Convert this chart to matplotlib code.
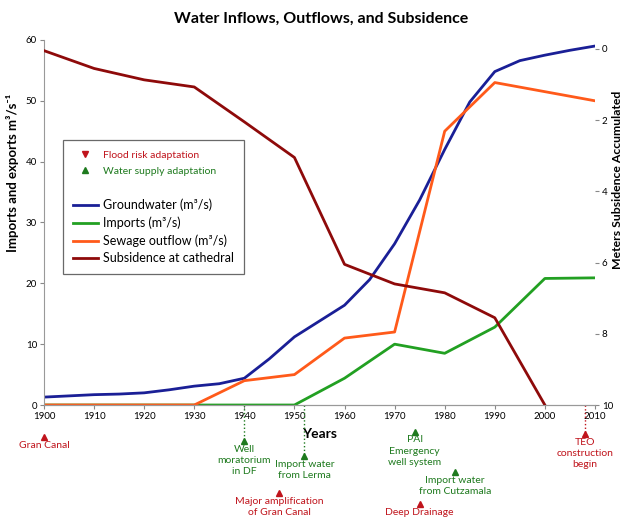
import matplotlib
matplotlib.use("Agg")
import matplotlib.pyplot as plt
from matplotlib.lines import Line2D

plt.rcParams['font.family'] = ['Lato', 'DejaVu Sans']

# data
years = [1900, 1910, 1920, 1930, 1940, 1950, 1960, 1970, 1980, 1990, 2000, 2010]
imports = [0, 0, 0, 0, 0, 0, 4.4, 10.0, 8.5, 12.8, 20.8, 20.9]
sewage = [0, 0, 0, 0, 4.0, 5.0, 11.0, 12.0, 45.0, 53.0, 51.5, 50.0]
subsidence = [0.05, 0.55, 0.87, 1.07, 2.05, 3.05, 6.05, 6.6, 6.85, 7.55, 10.0]
subs_years = years[:11]

# groundwater curve is smooth in the original, read every 5 years
gw_years = [1900, 1905, 1910, 1915, 1920, 1925, 1930, 1935, 1940, 1945, 1950, 1955,
            1960, 1965, 1970, 1975, 1980, 1985, 1990, 1995, 2000, 2005, 2010]
groundwater = [1.3, 1.5, 1.7, 1.8, 2.0, 2.5, 3.1, 3.5, 4.4, 7.6, 11.2, 13.8,
               16.4, 20.6, 26.5, 33.7, 42.0, 49.8, 54.8, 56.6, 57.5, 58.3, 59.0]

# events below the axis
ev_years = [1900, 1940, 1952, 1947, 1974, 1982, 1975, 2008]
ev_labels = ["Gran Canal", "Well\nmoratorium\nin DF", "Import water\nfrom Lerma",
             "Major amplification\nof Gran Canal", "PAI\nEmergency\nwell system",
             "Import water\nfrom Cutzamala", "Deep Drainage", "TEO\nconstruction\nbegin"]
ev_kind = ["flood", "water", "water", "flood", "water", "water", "flood", "flood"]
ev_marker_y = [-5.3, -5.9, -8.4, -14.5, -4.4, -11.0, -16.3, -4.8]
ev_dotted = [False, True, True, False, False, False, False, True]

c_blue = "#1a1f96"
c_green = "#22a022"
c_orange = "#ff5a1a"
c_red = "#8e0a0a"
c_flood = "#c0141c"
c_water = "#1e7a1e"

fig = plt.figure(figsize=(6.23, 5.23), dpi=100)
ax = fig.add_axes([0.0706, 0.2256, 0.8844, 0.698])
ax2 = ax.twinx()

ax.plot(gw_years, groundwater, color=c_blue, lw=2)
ax.plot(years, imports, color=c_green, lw=2)
ax.plot(years, sewage, color=c_orange, lw=2)
ax2.plot(subs_years, subsidence, color=c_red, lw=2)

ax.set_xlim(1900, 2010)
ax.set_ylim(0, 60)
ax2.set_ylim(10, -0.25)
ax.set_xticks(range(1900, 2011, 10))
ax.set_yticks(range(0, 61, 10))
ax2.set_yticks(range(0, 11, 2))
ax.tick_params(labelsize=7, length=3, color="#888888", pad=2)
ax2.tick_params(labelsize=7, length=3, color="#888888", pad=2)
for a in (ax, ax2):
    a.spines['top'].set_visible(False)
    a.spines['right'].set_visible(False)
    a.spines['left'].set_color("#999999")
    a.spines['bottom'].set_color("#999999")
ax2.spines['left'].set_visible(False)

ax.set_xlabel("Years", fontsize=10, fontweight="bold", labelpad=5)
ax.set_ylabel("Imports and exports m\u00b3/s\u207b\u00b9", fontsize=9.5, fontweight="bold")
ax.yaxis.set_label_coords(-0.045, 0.636)
ax2.set_ylabel("Meters Subsidence Accumulated", fontsize=8.8, fontweight="bold",
               rotation=90)
ax2.yaxis.set_label_coords(1.031, 0.616)
fig.suptitle("Water Inflows, Outflows, and Subsidence", fontsize=11.5,
             fontweight="bold", x=0.515, y=0.978)

# event markers below the axis
for yr, lab, kind, my, dot in zip(ev_years, ev_labels, ev_kind, ev_marker_y, ev_dotted):
    col = c_flood if kind == "flood" else c_water
    if dot:
        ax.plot([yr, yr], [0, my], ls=":", color=col, lw=1, clip_on=False)
    ax.plot([yr], [my], marker="^", ms=4, color=col, clip_on=False)
    ax.text(yr, my - 0.6, lab, color=col, fontsize=7.5, ha="center", va="top",
            linespacing=1.3, clip_on=False)

handles = [
    Line2D([], [], ls="none", marker="v", ms=4, color=c_flood),
    Line2D([], [], ls="none", marker="^", ms=4, color=c_water),
    Line2D([], [], ls="none"),
    Line2D([], [], color=c_blue, lw=2),
    Line2D([], [], color=c_green, lw=2),
    Line2D([], [], color=c_orange, lw=2),
    Line2D([], [], color=c_red, lw=2),
]
labels = ["Flood risk adaptation", "Water supply adaptation", " ",
          "Groundwater (m\u00b3/s)", "Imports (m\u00b3/s)", "Sewage outflow (m\u00b3/s)",
          "Subsidence at cathedral"]
leg = ax.legend(handles, labels, loc="upper left", bbox_to_anchor=(0.0345, 0.727),
                borderaxespad=0, frameon=True, fancybox=False, edgecolor="#444444",
                fontsize=9, handlelength=2.0, handletextpad=0.4, labelspacing=0.42,
                borderpad=0.8)
leg.get_frame().set_linewidth(0.9)
txts = leg.get_texts()
txts[0].set_color(c_flood)
txts[1].set_color(c_water)
txts[0].set_fontsize(7.5)
txts[1].set_fontsize(7.5)

fig.savefig("out.png", dpi=100)
